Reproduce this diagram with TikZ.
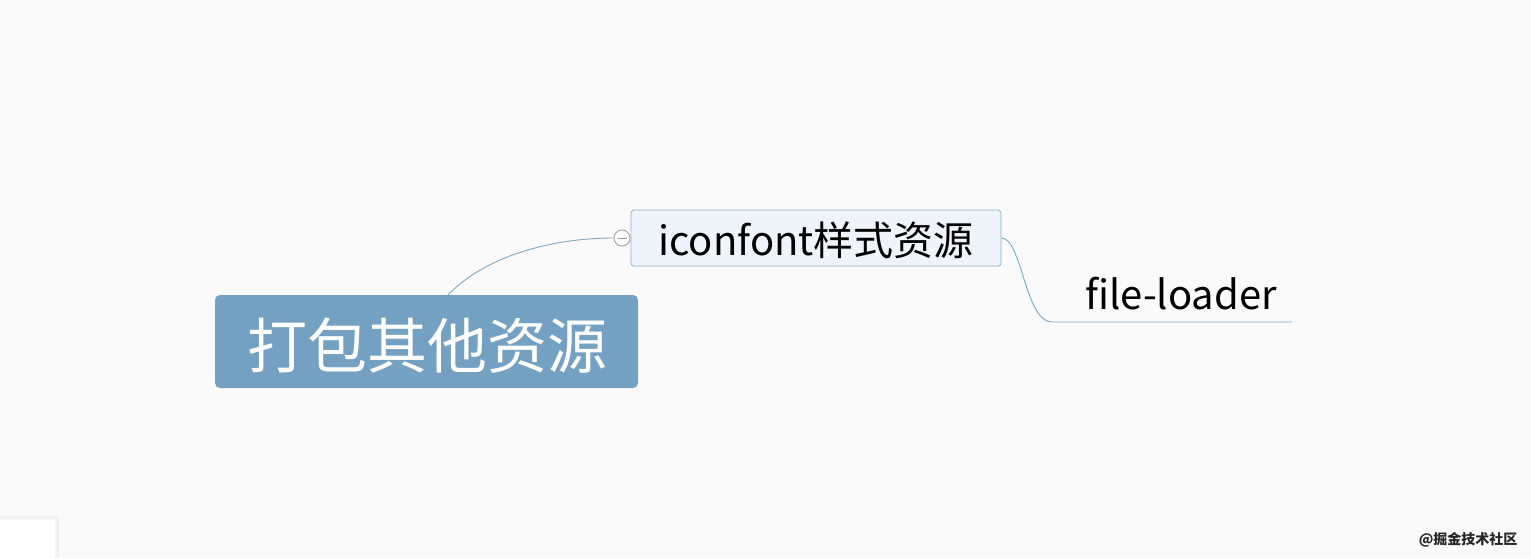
\documentclass[tikz,border=0pt]{standalone}
\usepackage{fontspec}
\newfontfamily\cjk{Noto Sans CJK SC}
\definecolor{bgc}{HTML}{FAFAFA}
\definecolor{mainfill}{HTML}{74A1C2}
\definecolor{subfill}{HTML}{EEF4F9}
\definecolor{subdraw}{HTML}{8DB1CC}
\definecolor{linec}{HTML}{7FA8C5}
\tikzset{
  mainnode/.style={fill=mainfill, rounded corners=5pt, minimum width=423pt, minimum height=93pt, inner sep=0pt, text=white, font=\cjk\fontsize{60}{60}\selectfont},
  subnode/.style={fill=subfill, draw=subdraw, line width=0.8pt, rounded corners=3pt, minimum width=370pt, minimum height=56pt, inner sep=0pt, font=\cjk\fontsize{40}{40}\selectfont},
  leafnode/.style={inner sep=0pt, font=\cjk\fontsize{40}{40}\selectfont},
  conn/.style={draw=linec, line width=0.9pt},
  collapse/.style={circle, draw=gray!80, fill=white, line width=0.8pt, minimum size=16pt, inner sep=0pt},
}
\begin{document}
\begin{tikzpicture}[x=1pt,y=-1pt]
\fill[bgc] (0,0) rectangle (1531,558);
\useasboundingbox (0,0) rectangle (1531,558);
% bottom-left box with shadow
\fill[black!6] (0,516) rectangle (59,558);
\fill[black!4] (0,518) rectangle (57,558);
\fill[white] (0,520) rectangle (55,558);
% nodes
\node[mainnode] (main) at (426.5,341.5) {};
\node[text=white, font=\cjk\fontsize{60}{60}\selectfont, inner sep=0pt] (maintext) at (427,346) {打包其他资源};
\node[subnode] (sub) at (816,238) {};
\node[font=\cjk\fontsize{40}{40}\selectfont, inner sep=0pt] (subtext) at (816,240) {iconfont样式资源};
\node[collapse] (col) at (622,238) {};
\draw[gray!80, line width=0.8pt] ([xshift=-4.5pt]col.center) -- ([xshift=4.5pt]col.center);
\node[leafnode, anchor=base] (leaf) at (1181,309) {file-loader};
\coordinate (leafL) at (1052,322);
\coordinate (leafR) at (1292,322);
% connectors
\draw[conn] ([xshift=21.5pt]main.north) .. controls (490,252) and (560,238) .. (col.west);
\draw[conn] (sub.east) .. controls (1022,238) and (1025,322) .. (leafL) -- (leafR);
% watermark
\node[font=\cjk\bfseries\fontsize{14}{14}\selectfont, text=black!85, anchor=east] (wm) at (1521,540) {@掘金技术社区};
\end{tikzpicture}
\end{document}
